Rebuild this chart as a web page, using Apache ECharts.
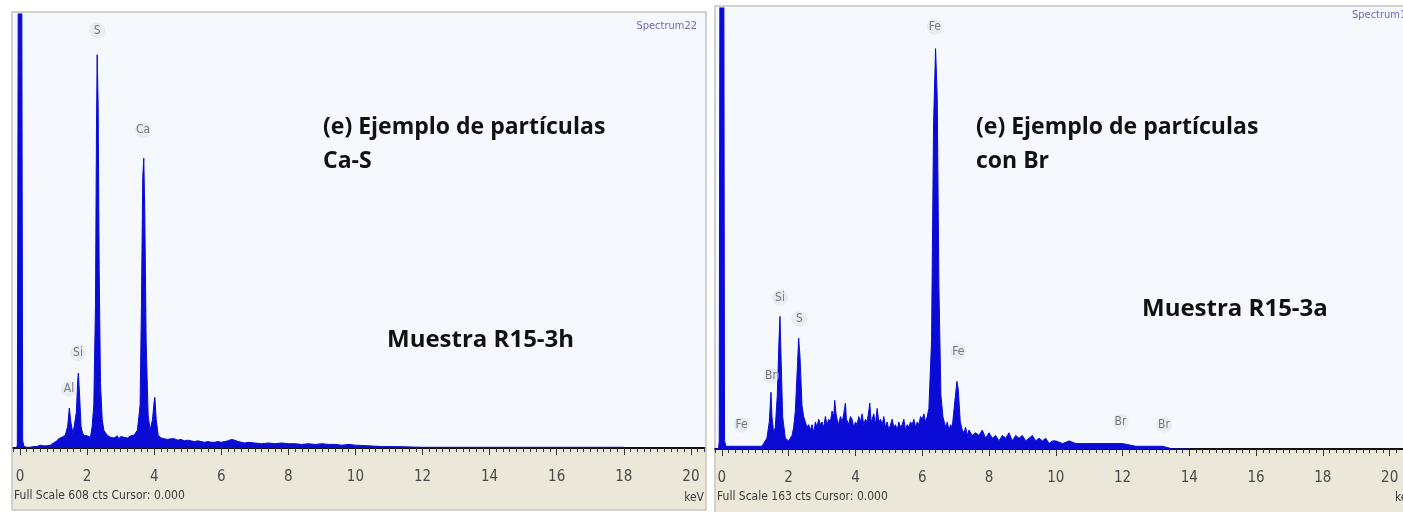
<!DOCTYPE html>
<html><head><meta charset="utf-8">
<script src="https://cdn.jsdelivr.net/npm/echarts@6/dist/echarts.min.js"></script>
<style>html,body{margin:0;padding:0;background:#fff}#c{width:1403px;height:512px}</style>
</head><body><div id="c"></div>
<script>
// ---- data ----
const tickValues = [0,2,4,6,8,10,12,14,16,18,20];
const fullScaleA = 608;
const fullScaleB = 163;
const keVA = [-0.2,-0.1,-0.08,-0.05,0,0.05,0.08,0.12,0.2,0.3,0.4,0.5,0.6,0.7,0.8,0.9,1.0,1.05,1.1,1.15,1.2,1.25,1.3,1.35,1.42,1.47,1.52,1.58,1.62,1.68,1.72,1.74,1.77,1.82,1.86,1.9,1.95,2.0,2.05,2.1,2.15,2.2,2.25,2.28,2.3,2.33,2.36,2.4,2.45,2.5,2.55,2.6,2.65,2.7,2.75,2.8,2.85,2.9,2.95,3.0,3.05,3.1,3.15,3.2,3.25,3.3,3.35,3.4,3.45,3.5,3.58,3.62,3.66,3.69,3.72,3.76,3.82,3.88,3.95,4.0,4.02,4.06,4.12,4.2,4.25,4.3,4.35,4.4,4.45,4.5,4.55,4.6,4.7,4.8,4.9,5.0,5.1,5.2,5.3,5.4,5.5,5.6,5.7,5.8,5.9,6.0,6.1,6.2,6.3,6.4,6.5,6.6,6.7,6.8,7.0,7.2,7.4,7.6,7.8,8.0,8.2,8.4,8.6,8.8,9.0,9.2,9.4,9.6,9.8,10.0,10.4,10.8,11.2,12,13,14,15,16,17,18,19,20,20.4];
const ctsA = [0,0,5,700,800,700,10,2,1,1,2,2,4,3,3,4,7,9,10,13,12,15,14,18,30,56,35,20,22,50,95,105,80,30,22,18,20,17,19,15,30,60,200,450,551,480,250,90,40,25,21,18,19,15,17,14,16,17,13,16,14,15,17,14,16,17,15,18,20,25,60,200,380,406,330,150,45,25,40,65,71,40,18,14,15,13,14,12,14,13,12,13,11,12,10,11,10,9,10,9,8,9,8,8,9,8,9,10,12,11,9,8,7,8,7,6,7,6,7,6,6,5,6,5,6,5,5,4,5,4,3,2,2,1,1,1,1,1,1,1];
const keVB = [-0.2,-0.1,-0.08,-0.05,0,0.05,0.08,0.12,0.2,0.4,0.6,0.8,1.0,1.2,1.25,1.35,1.42,1.47,1.5,1.55,1.6,1.66,1.71,1.74,1.77,1.82,1.9,2.0,2.1,2.15,2.2,2.26,2.3,2.34,2.4,2.45,2.5,2.55,2.6,2.65,2.7,2.75,2.8,2.85,2.9,2.95,3.0,3.05,3.1,3.15,3.2,3.25,3.3,3.35,3.38,3.42,3.45,3.5,3.55,3.6,3.65,3.7,3.73,3.77,3.8,3.85,3.9,3.95,4.0,4.05,4.1,4.15,4.2,4.25,4.3,4.35,4.4,4.43,4.47,4.5,4.55,4.6,4.65,4.7,4.75,4.8,4.85,4.9,4.95,5.0,5.05,5.1,5.15,5.2,5.25,5.3,5.35,5.4,5.45,5.5,5.55,5.6,5.65,5.7,5.75,5.8,5.85,5.9,5.95,6.0,6.05,6.1,6.15,6.2,6.28,6.34,6.4,6.45,6.5,6.56,6.62,6.7,6.75,6.8,6.85,6.9,6.98,7.04,7.08,7.14,7.2,7.25,7.3,7.35,7.4,7.5,7.6,7.7,7.8,7.9,8.0,8.1,8.2,8.3,8.4,8.5,8.6,8.7,8.8,8.9,9.0,9.1,9.2,9.3,9.4,9.5,9.6,9.7,9.8,9.9,10.0,10.2,10.4,10.6,10.8,11.0,11.3,11.6,12.0,12.4,12.8,13.2,13.5,13.7,14,20.4];
const ctsB = [0,0,3,250,250,250,3,1,1,1,1,1,1,1,2,4,10,21,12,6,8,20,40,49,35,12,4,3,5,8,14,30,41,34,16,12,10,8,9,7,9,6,10,8,11,9,10,8,12,9,11,10,14,12,18,13,11,9,12,10,13,17,11,10,9,12,11,8,10,9,12,10,13,9,11,10,14,17,10,11,13,9,15,10,11,9,12,8,10,7,9,11,8,9,7,10,8,9,11,7,9,8,10,9,11,8,10,9,12,11,13,10,12,15,40,120,148,130,60,20,12,8,10,7,9,8,18,25,22,10,7,6,8,5,7,5,6,5,7,4,6,4,5,3,5,4,6,3,5,4,5,3,4,5,3,4,3,4,2,3,3,2,3,2,2,2,2,2,2,1,1,1,0,0,0];
const labelsA = [
  {name:'S', keV:2.30, cts:585},
  {name:'Ca', keV:3.67, cts:445},
  {name:'Si', keV:1.73, cts:133},
  {name:'Al', keV:1.46, cts:83}
];
const labelsB = [
  {name:'Fe', keV:6.38, cts:156},
  {name:'Si', keV:1.74, cts:56},
  {name:'S', keV:2.32, cts:48},
  {name:'Br', keV:1.47, cts:27},
  {name:'Fe', keV:7.08, cts:36},
  {name:'Fe', keV:0.59, cts:9},
  {name:'Br', keV:11.94, cts:10},
  {name:'Br', keV:13.24, cts:9}
];
const textsA = {title:'(e) Ejemplo de partículas\nCa-S', sample:'Muestra R15-3h', spectrum:'Spectrum22', footer:'Full Scale 608 cts Cursor: 0.000'};
const textsB = {title:'(e) Ejemplo de partículas\ncon Br', sample:'Muestra R15-3a', spectrum:'Spectrum14', footer:'Full Scale 163 cts Cursor: 0.000'};

// ---- chart ----
const BLUE = '#0b0bd6';
const narrow = "'Liberation Sans Narrow','DejaVu Sans Condensed','Roboto Condensed',sans-serif";
const bold = "'Open Sans','Lato',sans-serif";
function pairs(k, c){ return k.map((v,i)=>[v,c[i]]); }
function xAxes(gi){
  return [
    {gridIndex:gi, type:'value', min:-0.2, max:20.4, interval:0.2,
     axisLine:{show:true, onZero:false, lineStyle:{color:'#111', width:2}},
     axisTick:{show:true, inside:false, length:4, lineStyle:{color:'#333', width:1}},
     axisLabel:{show:true, customValues:tickValues, margin:22, fontFamily:narrow, fontSize:15, color:'#4a4a4a'},
     splitLine:{show:false}},
    {gridIndex:gi, type:'value', min:-0.2, max:20.4, position:'bottom',
     axisLine:{show:false},
     axisTick:{show:true, customValues:tickValues, length:7, lineStyle:{color:'#333', width:1}},
     axisLabel:{show:false}, splitLine:{show:false}}
  ];
}
function labelSeries(list, xi, yi){
  return {type:'scatter', xAxisIndex:xi, yAxisIndex:yi, z:5,
    symbol:'circle', symbolSize:16,
    itemStyle:{color:'rgba(215,222,235,0.55)'},
    label:{show:true, position:'inside', formatter:p=>p.name, fontFamily:narrow, fontSize:12, color:'#5a5a5a'},
    data:list.map(d=>({name:d.name, value:[d.keV,d.cts]}))};
}
const chart = echarts.init(document.getElementById('c'), null, {renderer:'canvas'});
chart.setOption({
  animation:false,
  backgroundColor:'#ffffff',
  grid:[
    {left:13.3, top:14, width:691, height:434},
    {left:715.2, top:8, width:700.4, height:441}
  ],
  xAxis:[...xAxes(0), ...xAxes(1)],
  yAxis:[
    {gridIndex:0, type:'value', min:0, max:fullScaleA, show:false},
    {gridIndex:1, type:'value', min:0, max:fullScaleB, show:false}
  ],
  series:[
    {type:'line', xAxisIndex:0, yAxisIndex:0, data:pairs(keVA, ctsA), showSymbol:false, clip:true,
     lineStyle:{color:BLUE, width:1}, areaStyle:{color:BLUE, opacity:1}, z:3},
    {type:'line', xAxisIndex:2, yAxisIndex:1, data:pairs(keVB, ctsB), showSymbol:false, clip:true,
     lineStyle:{color:BLUE, width:1}, areaStyle:{color:BLUE, opacity:1}, z:3},
    labelSeries(labelsA, 0, 0),
    labelSeries(labelsB, 2, 1)
  ],
  graphic:[
    {type:'rect', z:-10, shape:{x:12, y:12, width:694, height:498}, style:{fill:'#f5f8fc', stroke:'#c4c4c0', lineWidth:1.5}},
    {type:'rect', z:-9, shape:{x:13, y:449, width:692, height:60}, style:{fill:'#ebe8d9'}},
    {type:'rect', z:-10, shape:{x:715, y:6, width:700, height:508}, style:{fill:'#f5f8fc', stroke:'#c4c4c0', lineWidth:1.5}},
    {type:'rect', z:-9, shape:{x:716, y:450, width:700, height:62}, style:{fill:'#ebe8d9'}},
    {type:'text', z:50, x:323, y:110, style:{text:textsA.title, font:"bold 23px "+bold, fill:'#111', lineHeight:34}},
    {type:'text', z:50, x:387, y:328, style:{text:textsA.sample, font:"bold 24px "+bold, fill:'#111'}},
    {type:'text', z:50, x:697, y:21, style:{text:textsA.spectrum, font:"11px "+narrow, fill:'#6a6ac0', align:'right'}},
    {type:'text', z:50, x:14, y:490, style:{text:textsA.footer, font:"12px "+narrow, fill:'#3a3a3a'}},
    {type:'text', z:50, x:704, y:492, style:{text:'keV', font:"12px "+narrow, fill:'#3a3a3a', align:'right'}},
    {type:'text', z:50, x:976, y:110, style:{text:textsB.title, font:"bold 23px "+bold, fill:'#111', lineHeight:34}},
    {type:'text', z:50, x:1142, y:297, style:{text:textsB.sample, font:"bold 24px "+bold, fill:'#111'}},
    {type:'text', z:50, x:1352, y:10, style:{text:textsB.spectrum, font:"11px "+narrow, fill:'#6a6ac0'}},
    {type:'text', z:50, x:717, y:491, style:{text:textsB.footer, font:"12px "+narrow, fill:'#3a3a3a'}},
    {type:'text', z:50, x:1395, y:492, style:{text:'keV', font:"12px "+narrow, fill:'#3a3a3a'}}
  ]
});
</script></body></html>
